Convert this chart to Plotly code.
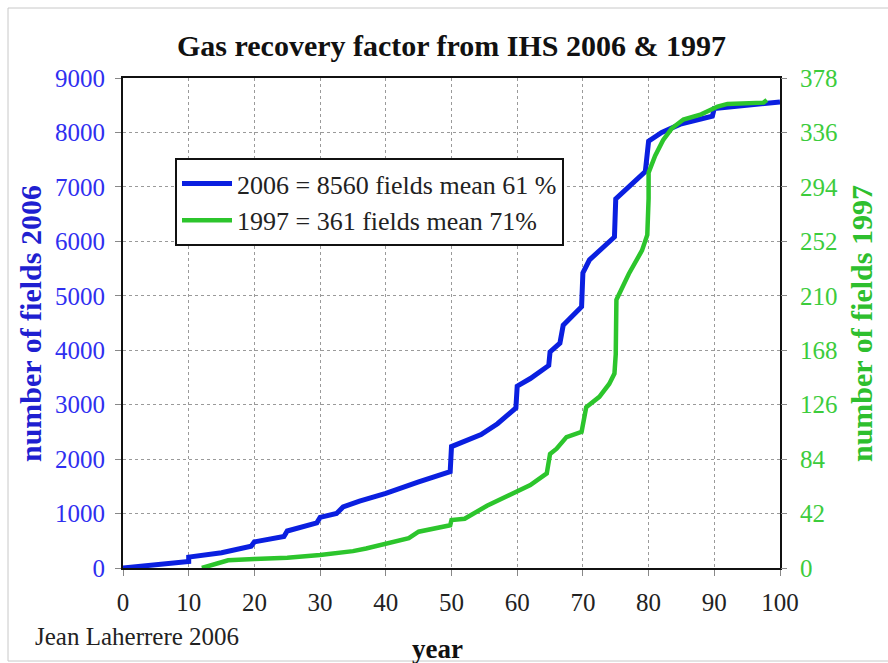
import plotly.graph_objects as go

# ---- data ----
blue_x = [0, 5, 10, 10, 15, 19.5, 20, 24.5, 25, 29.5, 30, 32.5, 33.5, 36, 40, 45, 49.8, 50,
          54.5, 57, 59.8, 60, 62, 64.8, 65, 66.5, 67, 69.8, 70, 71, 74.8, 75, 79.5, 80, 82,
          85, 89.7, 90, 95, 97.5, 100]
blue_y = [0, 50, 120, 200, 280, 400, 480, 580, 680, 830, 930, 1000, 1120, 1230, 1370, 1580,
          1770, 2230, 2450, 2650, 2940, 3340, 3480, 3720, 3970, 4130, 4460, 4800, 5420, 5660,
          6080, 6780, 7280, 7840, 8000, 8160, 8300, 8440, 8500, 8540, 8560]

green_x = [12, 14, 16, 20, 25, 30, 32, 35, 37, 40, 43.5, 45, 47, 49.8, 50, 52, 55.4, 57, 60,
           62, 64.5, 65, 66, 67.5, 69.8, 70.5, 72.5, 74, 74.8, 75, 75.1, 77, 79, 79.8, 80, 80,
           81, 82.2, 83.5, 85.3, 88, 90.5, 92, 97.5, 98]
green_y = [0, 3, 6, 7, 8, 10, 11, 13, 15, 19, 23, 28, 30, 33, 37, 38, 48, 52, 59, 64, 73, 88,
           92, 101, 105, 124, 132, 142, 150, 165, 207, 227, 245, 257, 285, 305, 318, 330, 339,
           346, 350, 356, 358, 359, 361]

x_ticks = list(range(0, 101, 10))
left_ticks = list(range(0, 9001, 1000))
right_ticks = list(range(0, 379, 42))

name_2006 = "2006 = 8560 fields mean 61 %"
name_1997 = "1997 = 361 fields mean 71%"

FONT = "Liberation Serif"
BLUE_LINE = "#0a1fe0"
GREEN_LINE = "#2cc52c"
BLUE_TXT = "#2f2ff0"
GREEN_TXT = "#3ccc3c"

fig = go.Figure()
fig.add_trace(go.Scatter(x=blue_x, y=blue_y, mode="lines", name=name_2006,
                         line=dict(color=BLUE_LINE, width=5), yaxis="y"))
fig.add_trace(go.Scatter(x=green_x, y=green_y, mode="lines", name=name_1997,
                         line=dict(color=GREEN_LINE, width=4.5), yaxis="y2"))

L, R, T, B = 123, 108, 78, 95
W, H = 888 - L - R, 663 - T - B

def px2x(px):
    return (px - L) / W

def py2y(py):
    return (663 - B - py) / H

fig.update_layout(
    width=888, height=663,
    margin=dict(l=L, r=R, t=T, b=B, pad=0),
    paper_bgcolor="white", plot_bgcolor="white",
    font=dict(family=FONT, size=22, color="#222"),
    title=dict(text="<b>Gas recovery factor from IHS 2006 &amp; 1997</b>",
               x=0.5, xref="paper", xanchor="center",
               y=1 - 45 / 663, yanchor="middle", yref="container",
               font=dict(family=FONT, size=30, color="#111")),
    xaxis=dict(range=[0, 100], tickvals=x_ticks, ticks="outside", ticklen=6,
               tickcolor="#888", showgrid=True, gridcolor="#9a9a9a", griddash="dot",
               gridwidth=1, showline=True, linecolor="#111", linewidth=2, mirror=True,
               zeroline=False, ticklabelstandoff=5,
               tickfont=dict(family=FONT, size=25, color="#222")),
    yaxis=dict(range=[0, 9000], tickvals=left_ticks, ticks="outside", ticklen=6,
               tickcolor="#888", showgrid=True, gridcolor="#9a9a9a", griddash="dot",
               gridwidth=1, showline=True, linecolor="#111", linewidth=2, mirror=True,
               zeroline=False, ticklabelstandoff=5,
               tickfont=dict(family=FONT, size=25, color=BLUE_TXT)),
    yaxis2=dict(range=[0, 378], tickvals=right_ticks, overlaying="y", side="right",
                ticks="outside", ticklen=6, tickcolor="#888", showgrid=False,
                showline=False, zeroline=False, ticklabelstandoff=8,
                tickfont=dict(family=FONT, size=25, color=GREEN_TXT)),
    legend=dict(x=px2x(175), y=py2y(158), xanchor="left", yanchor="top",
                bgcolor="white", bordercolor="#111", borderwidth=2,
                font=dict(family=FONT, size=26, color="#222"),
                itemwidth=50, tracegroupgap=0),
    showlegend=True,
)

annotations = [
    dict(text="<b>number of fields 2006</b>", x=px2x(30), y=py2y(324), xref="paper",
         yref="paper", textangle=-90, showarrow=False, xanchor="center", yanchor="middle",
         font=dict(family=FONT, size=30, color="#1f1fd0")),
    dict(text="<b>number of fields 1997</b>", x=px2x(861), y=py2y(324), xref="paper",
         yref="paper", textangle=-90, showarrow=False, xanchor="center", yanchor="middle",
         font=dict(family=FONT, size=30, color="#2ebf2e")),
    dict(text="<b>year</b>", x=px2x(437), y=py2y(649), xref="paper", yref="paper",
         showarrow=False, xanchor="center", yanchor="middle",
         font=dict(family=FONT, size=27, color="#111")),
    dict(text="Jean Laherrere 2006", x=px2x(33), y=py2y(636), xref="paper", yref="paper",
         showarrow=False, xanchor="left", yanchor="middle",
         font=dict(family=FONT, size=25, color="#222")),
]
fig.update_layout(annotations=annotations)

fig.add_shape(type="rect", xref="paper", yref="paper",
              x0=px2x(8), x1=px2x(900), y0=py2y(661), y1=py2y(8),
              line=dict(color="#c8c8c8", width=1), layer="below")

fig.write_html("out.html", config={"displayModeBar": False},
               post_script="document.body.style.margin='0';document.body.style.overflow='hidden';")
